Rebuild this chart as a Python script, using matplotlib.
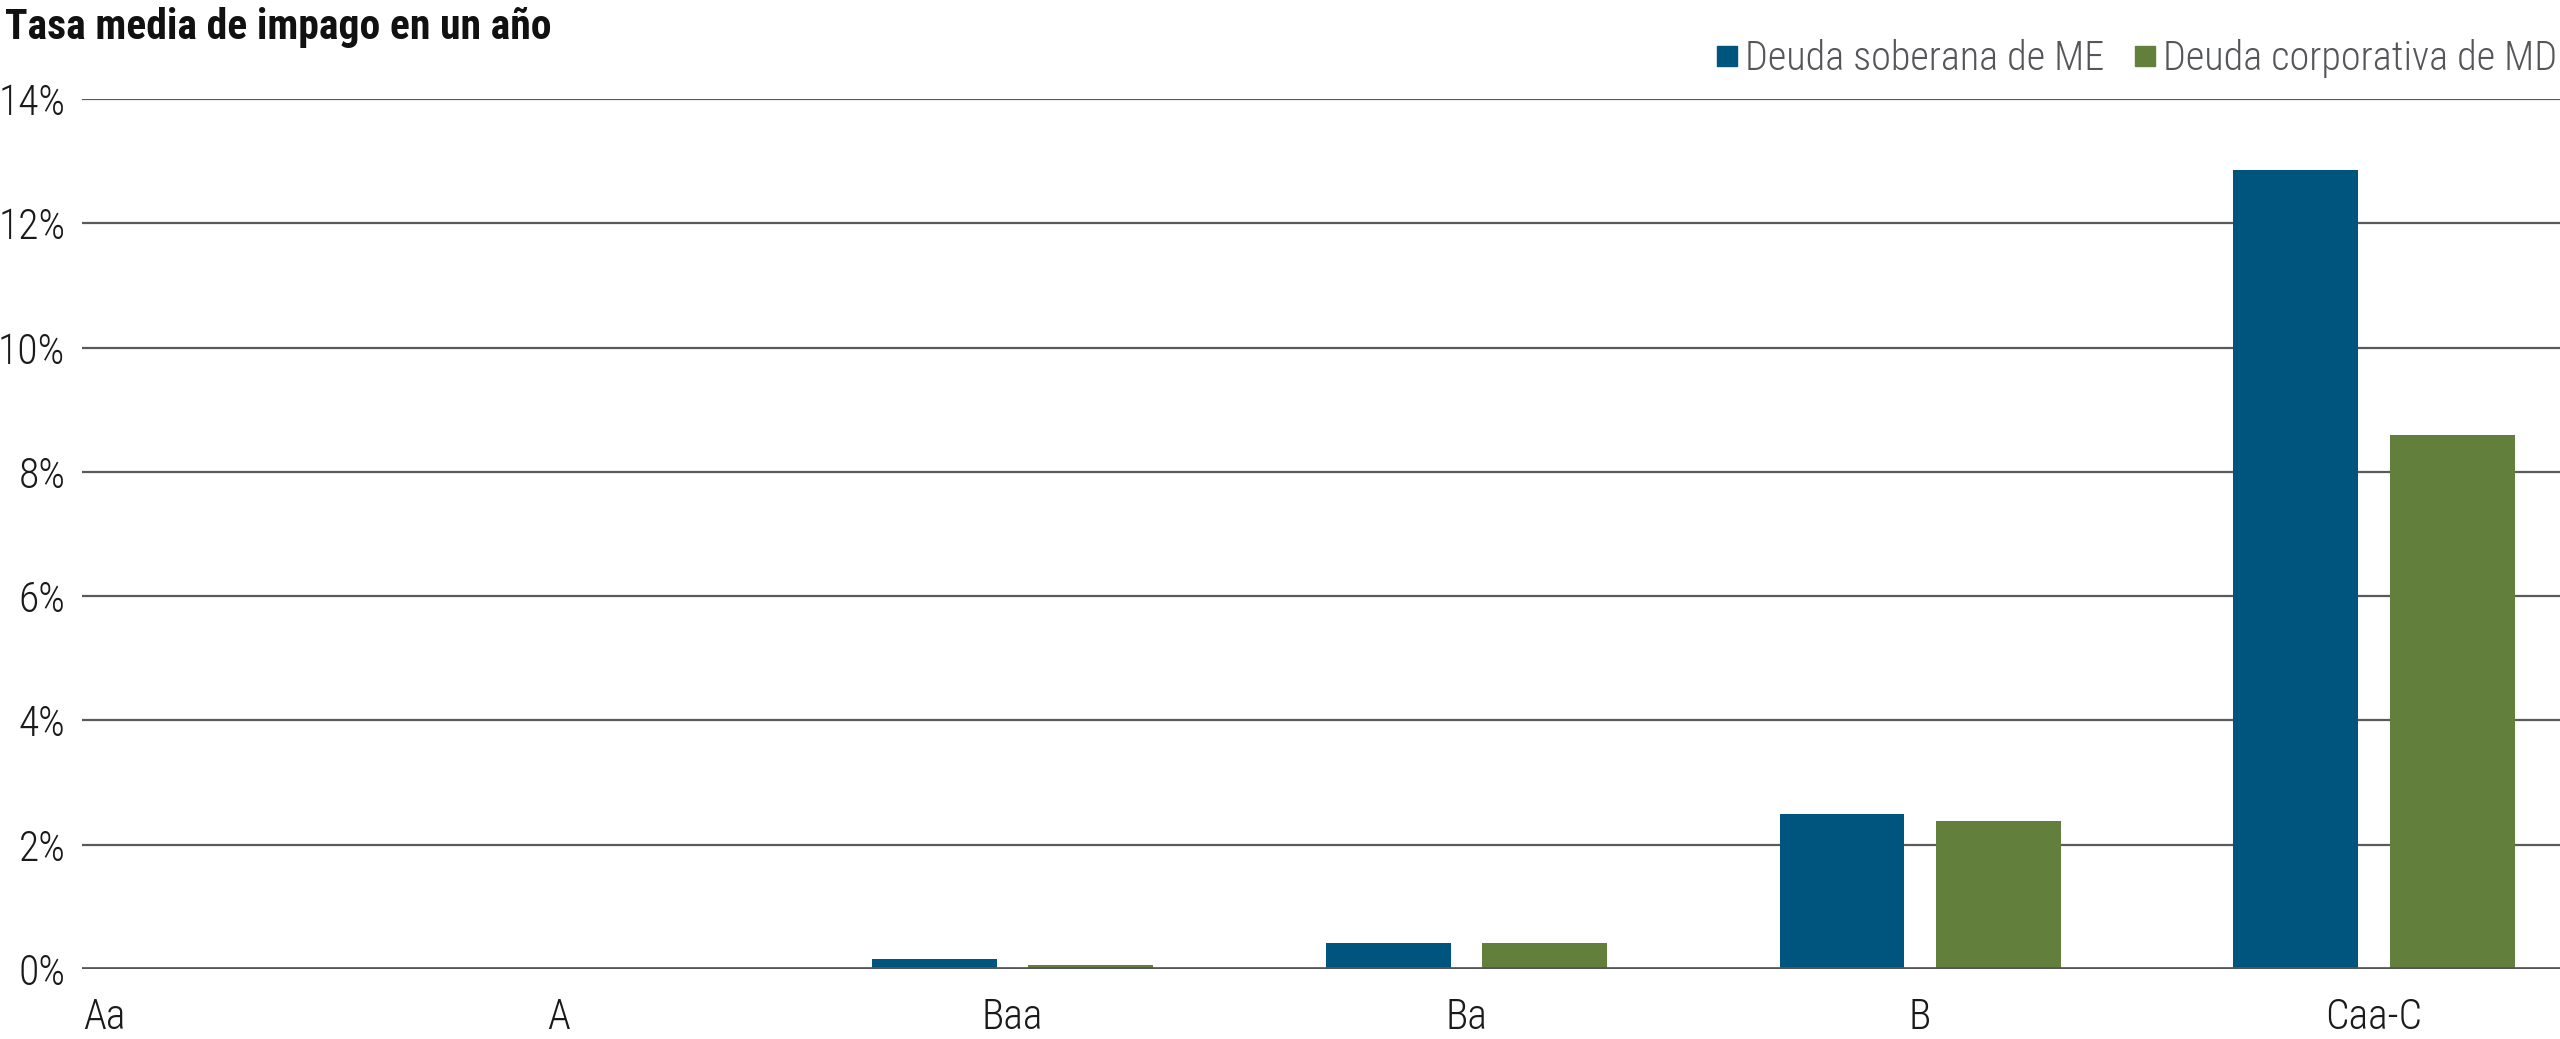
import matplotlib
matplotlib.use("Agg")
import matplotlib.pyplot as plt
from matplotlib.lines import Line2D
import numpy as np

# Data (percent)
ratings = ["Aa", "A", "Baa", "Ba", "B", "Caa-C"]
sovereign_em = [0.0, 0.0, 0.16, 0.42, 2.49, 12.85]
corporate_dm = [0.0, 0.0, 0.07, 0.42, 2.38, 8.60]
series_names = ["Deuda soberana de ME", "Deuda corporativa de MD"]
y_ticks = [0, 2, 4, 6, 8, 10, 12, 14]

BLUE = "#00557f"
GREEN = "#62803b"
GRID = "#5a5a5a"

plt.rcParams["font.family"] = ["Roboto Condensed", "Roboto", "DejaVu Sans"]

fig = plt.figure(figsize=(25.6, 10.39), dpi=100)
ax = fig.add_axes([0.032, 0.0674, 0.968, 0.8373])

x = np.arange(len(ratings))
width = 0.275
ax.bar(x - 0.172, sovereign_em, width, color=BLUE, zorder=3)
ax.bar(x + 0.173, corporate_dm, width, color=GREEN, zorder=3)

ax.set_xlim(-0.05, 5.41)
ax.set_ylim(0, 14)
ax.set_yticks(y_ticks)
ax.set_yticklabels([f"{t}%" for t in y_ticks])
ax.set_xticks(x)
ax.set_xticklabels(ratings)
ax.tick_params(axis="both", length=0, labelsize=30, colors="#1a1a1a")
ax.tick_params(axis="y", pad=12)
ax.tick_params(axis="x", pad=20)
for lbl in ax.get_xticklabels() + ax.get_yticklabels():
    lbl.set_fontweight("light")

ax.grid(axis="y", color=GRID, linewidth=1.6, zorder=0)
ax.axhline(0, color="#555555", linewidth=3.4, zorder=4)
for s in ax.spines.values():
    s.set_visible(False)

fig.text(0.002, 0.993, "Tasa media de impago en un año", fontsize=30,
         fontweight="black", va="top", ha="left", color="#111111")

handles = [Line2D([], [], marker="s", linestyle="none", markersize=15, color=c)
           for c in (BLUE, GREEN)]
leg = fig.legend(handles, series_names, loc="upper right", bbox_to_anchor=(1.013, 0.997),
                 ncol=2, frameon=False, fontsize=29, handletextpad=0.05,
                 columnspacing=0.6, handlelength=0.8, labelcolor="#55565a")
for t in leg.get_texts():
    t.set_fontweight("light")

fig.savefig("out.png", dpi=100)
